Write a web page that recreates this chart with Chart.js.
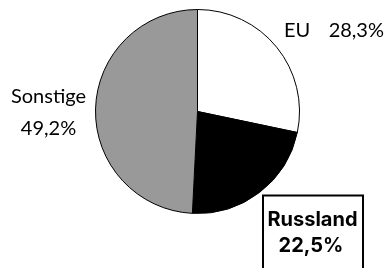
<!DOCTYPE html>
<html>
<head>
<meta charset="utf-8">
<script src="https://cdn.jsdelivr.net/npm/chart.js@4"></script>
<style>
  html, body { margin: 0; padding: 0; background: #fff; }
  #wrap { width: 386px; height: 268px; }
</style>
</head>
<body>
<div id="wrap"><canvas id="chart" width="386" height="268"></canvas></div>
<script>
const regionen = ["EU", "Russland", "Sonstige"];
const anteile = [28.3, 22.5, 49.2];
const farben = ["#ffffff", "#000000", "#999999"];

const fmt = v => v.toFixed(1).replace(".", ",") + "%";

// Beschriftungen neben dem Kreis
const beschriftung = {
  id: "beschriftung",
  afterDatasetsDraw(chart) {
    const ctx = chart.ctx;
    const arc = chart.getDatasetMeta(0).data[0];
    const cx = arc.x, cy = arc.y;
    ctx.save();
    ctx.fillStyle = "#000";
    ctx.textBaseline = "alphabetic";

    // EU
    ctx.font = "20px Lato";
    ctx.textAlign = "left";
    ctx.fillText(regionen[0], cx + 86.5, cy - 74.5);
    ctx.textAlign = "right";
    ctx.fillText(fmt(anteile[0]), cx + 186.5, cy - 74.5);

    // Sonstige
    ctx.textAlign = "center";
    ctx.fillText(regionen[2], cx - 149, cy - 8.5);
    ctx.fillText(fmt(anteile[2]), cx - 149, cy + 23.5);

    // Russland im Kasten
    ctx.lineWidth = 2;
    ctx.strokeStyle = "#000";
    ctx.fillStyle = "#fff";
    ctx.fillRect(cx + 65.5, cy + 84, 100, 100);
    ctx.strokeRect(cx + 65.5, cy + 84, 100, 100);
    ctx.fillStyle = "#000";
    ctx.font = "bold 20px Inter";
    ctx.fillText(regionen[1], cx + 115, cy + 114.5);
    ctx.fillText(fmt(anteile[1]), cx + 113.5, cy + 140.5);
    ctx.restore();
  }
};

new Chart(document.getElementById("chart"), {
  type: "pie",
  data: {
    labels: regionen,
    datasets: [{
      data: anteile,
      backgroundColor: farben,
      borderColor: "#000",
      borderWidth: 1
    }]
  },
  options: {
    responsive: false,
    animation: false,
    layout: { padding: { left: 95, right: 86, top: 9, bottom: 54 } },
    plugins: {
      legend: { display: false },
      tooltip: { enabled: false }
    }
  },
  plugins: [beschriftung]
});
</script>
</body>
</html>
